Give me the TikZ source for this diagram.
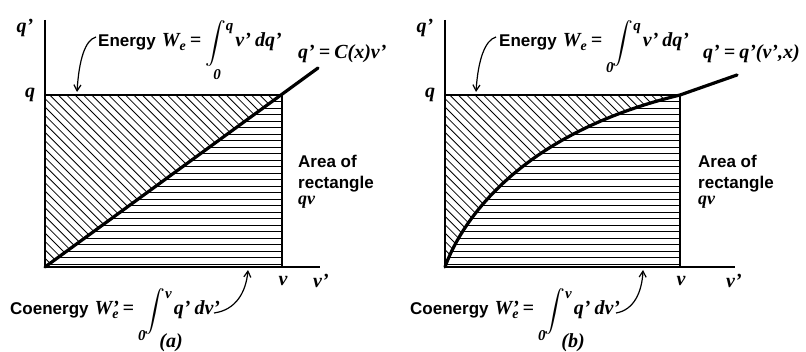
\documentclass[tikz,border=0pt]{standalone}
\usepackage{fix-cm}
\usepackage{exscale}
\usepackage{fontspec}
\setmainfont{Liberation Sans}
\newfontfamily\mbifam{Liberation Serif}
\usetikzlibrary{arrows.meta}
\newcommand\mi[1]{{\mbifam\bfseries\itshape #1}}
\newcommand\fsz[1]{\fontsize{#1}{#1}\selectfont}
\newcommand\We{\mi{W}\raisebox{-4pt}{\fsz{14}\mi{e}}}
\newcommand\Wpe{\mi{W}\rlap{\mi{’}}\raisebox{-4pt}{\fsz{14}\mi{e}}}
\newcommand\eqs{\kern4pt\mi{=}\kern4pt}
\newcommand\bigint{\raisebox{-2pt}{$\displaystyle\int$}}
\newcommand\lowlim[1]{\raisebox{-26pt}{\fsz{15}\mi{#1}}}
\newcommand\uplim[1]{\raisebox{16pt}{\fsz{15}\mi{#1}}}
\tikzset{
  axisline/.style={line width=1.8pt},
  curveline/.style={line width=3.2pt, line cap=round},
  hatchline/.style={line width=0.8pt},
  lbl/.style={inner sep=0pt, font=\fsz{17}\bfseries},
  mth/.style={inner sep=0pt, font=\fsz{20}},
  callout/.style={line width=1.2pt, -{Straight Barb[length=6pt,width=7pt]}},
}
\begin{document}
\begin{tikzpicture}[x=1pt,y=-1pt]
\useasboundingbox (0,0) rectangle (806,352);
% ---------------- panel (a)
\coordinate (Oa) at (45,267);
\coordinate (Ya) at (45,20);
\coordinate (Xa) at (320,267);
\coordinate (Qa) at (45,95);
\coordinate (Ca) at (282,95);
\coordinate (Va) at (282,267);
\coordinate (La) at (318,68);
\begin{scope}
  \clip (Qa) -- (Ca) -- (Oa) -- cycle;
  \foreach \s in {0,...,52} \draw[hatchline] (-135+\s*8.4,95) -- ++(300,300);
\end{scope}
\begin{scope}
  \clip (Oa) -- (Ca) -- (Va) -- cycle;
  \foreach \s in {0,...,27} \draw[hatchline] (45,95+\s*6.5) -- (282,95+\s*6.5);
\end{scope}
\draw[axisline] (Ya) -- (Oa) -- (Xa);
\draw[axisline] (Qa) -- (Ca) -- (Va);
\draw[curveline] (Oa) -- (La);
\node[mth] (qpa) at (25,28) {\mi{q’}};
\node[mth] (qa) at (30,95) {\mi{q}};
\node[mth] (va) at (283,281) {\mi{v}};
\node[mth] (vpa) at (321,281) {\mi{v’}};
\node[lbl, anchor=base west] (ena) at (98,47) {Energy\hspace{6pt}{\fsz{20}\We\eqs\bigint\llap{\raisebox{-33pt}{\fsz{15}\mi{0}}\kern5pt}\uplim{q}\kern2pt\mi{v’}\kern4pt\mi{dq’}}};
\node[mth, anchor=base west] (rela) at (298,59) {\mi{q’\kern4pt=\kern4pt C(x)v’}};
\node[lbl, anchor=base west] (ar1a) at (298,168) {Area of};
\node[lbl, anchor=base west] (ar2a) at (298,189) {rectangle};
\node[mth, anchor=base west, font=\fsz{18}] (ar3a) at (298,205) {\mi{qv}};
\node[lbl, anchor=base west] (coa) at (10,315) {Coenergy\hspace{6pt}{\fsz{20}\Wpe\eqs\lowlim{0}\kern-1pt\bigint\uplim{v}\kern2pt\mi{q’}\kern4pt\mi{dv’}}};
\node[mth] (capa) at (171,343) {\mi{(a)}};
\coordinate (e1a) at (96,37);
\coordinate (e2a) at (77,92);
\draw[callout] (e1a) .. controls (85,40) and (79,60) .. (e2a);
\coordinate (c1a) at (214,313);
\coordinate (c2a) at (248,270);
\draw[callout] (c1a) .. controls (236,310) and (246,292) .. (c2a);
% ---------------- panel (b)
\coordinate (Ob) at (445,267);
\coordinate (Yb) at (445,20);
\coordinate (Xb) at (735,267);
\coordinate (Qb) at (445,95);
\coordinate (Cb) at (680,95);
\coordinate (Vb) at (680,267);
\coordinate (Lb) at (737,75);
\begin{scope}
  \clip (Ob) .. controls (460,225) and (515,135) .. (Cb) -- (Qb) -- cycle;
  \foreach \s in {0,...,52} \draw[hatchline] (265+\s*8.4,95) -- ++(300,300);
\end{scope}
\begin{scope}
  \clip (Ob) .. controls (460,225) and (515,135) .. (Cb) -- (Vb) -- cycle;
  \foreach \s in {0,...,27} \draw[hatchline] (445,95+\s*6.5) -- (680,95+\s*6.5);
\end{scope}
\draw[axisline] (Yb) -- (Ob) -- (Xb);
\draw[axisline] (Qb) -- (Cb) -- (Vb);
\draw[curveline] (Ob) .. controls (460,225) and (515,135) .. (Cb) -- (Lb);
\node[mth] (qpb) at (425,28) {\mi{q’}};
\node[mth] (qb) at (430,95) {\mi{q}};
\node[mth] (vb) at (681,281) {\mi{v}};
\node[mth] (vpb) at (734,281) {\mi{v’}};
\node[lbl, anchor=base west] (enb) at (499,47) {Energy\hspace{6pt}{\fsz{20}\We\eqs\lowlim{0}\kern-1pt\bigint\uplim{q}\kern2pt\mi{v’}\kern4pt\mi{dq’}}};
\node[mth, anchor=base west] (relb) at (703,59) {\mi{q’\kern4pt=\kern4pt q’(v’,x)}};
\node[lbl, anchor=base west] (ar1b) at (698,168) {Area of};
\node[lbl, anchor=base west] (ar2b) at (698,189) {rectangle};
\node[mth, anchor=base west, font=\fsz{18}] (ar3b) at (698,205) {\mi{qv}};
\node[lbl, anchor=base west] (cob) at (410,315) {Coenergy\hspace{6pt}{\fsz{20}\Wpe\eqs\lowlim{0}\kern-1pt\bigint\uplim{v}\kern2pt\mi{q’}\kern4pt\mi{dv’}}};
\node[mth] (capb) at (573,343) {\mi{(b)}};
\coordinate (e1b) at (496,37);
\coordinate (e2b) at (476,92);
\draw[callout] (e1b) .. controls (485,40) and (478,60) .. (e2b);
\coordinate (c1b) at (616,313);
\coordinate (c2b) at (643,270);
\draw[callout] (c1b) .. controls (634,310) and (642,292) .. (c2b);
\end{tikzpicture}
\end{document}
